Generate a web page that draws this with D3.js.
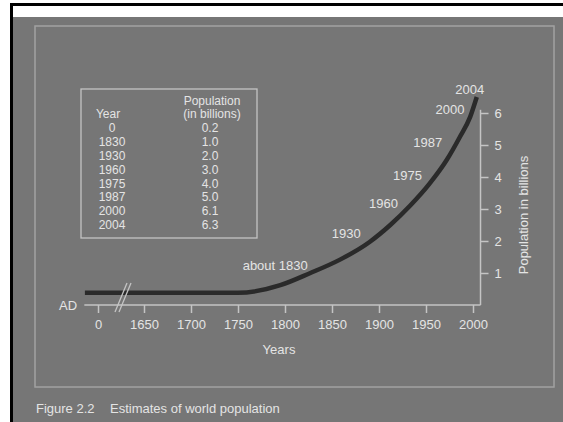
<!DOCTYPE html>
<html>
<head>
<meta charset="utf-8">
<script src="https://cdn.jsdelivr.net/npm/d3@7/dist/d3.min.js"></script>
<style>
  html, body { margin: 0; padding: 0; background: #ffffff; }
  svg { display: block; }
  text { font-family: "Liberation Sans", Arial, sans-serif; }
</style>
</head>
<body>
<svg id="chart" width="563" height="422"></svg>
<script>
// ---- data ----
const tableYears = ["0", "1830", "1930", "1960", "1975", "1987", "2000", "2004"];
const tablePop = ["0.2", "1.0", "2.0", "3.0", "4.0", "5.0", "6.1", "6.3"];
const xTickValues = [0, 1650, 1700, 1750, 1800, 1850, 1900, 1950, 2000];
const yTickValues = [1, 2, 3, 4, 5, 6];
// drawn curve
const curveYears = [-470, 1750, 1795, 1827, 1858, 1890, 1912, 1933, 1954, 1972, 1986, 1997, 2004];
const curveValues = [0.38, 0.38, 0.62, 1.0, 1.41, 1.97, 2.5, 3.1, 3.8, 4.53, 5.25, 5.88, 6.5];
// curve annotations
const labelTexts = ["about 1830", "1930", "1960", "1975", "1987", "2000", "2004"];
const labelYears = [1830, 1930, 1960, 1975, 1987, 2000, 2004];
const labelValues = [1.0, 2.0, 3.0, 4.0, 5.0, 6.1, 6.3];

// ---- layout ----
const labelOffsets = [[-38, -8], [-61, -8], [-52, -6], [-42, -2], [-33, -3], [-23, 0], [-7, -14]];
const bg = "#767676", txt = "#e4e4e4", frame = "#a2a2a2", axisCol = "#c4c4c4";
const fs = 13, tfs = 12;
const fontFam = "'Liberation Sans', Arial, sans-serif";

const svg = d3.select("#chart");

// page background / borders
svg.append("rect").attr("x", 10).attr("y", 3).attr("width", 553).attr("height", 419).attr("fill", "#000");
svg.append("rect").attr("x", 13).attr("y", 6).attr("width", 550).attr("height", 416).attr("fill", "#fff");
svg.append("rect").attr("x", 13).attr("y", 17).attr("width", 550).attr("height", 405).attr("fill", bg);
// inner frame
svg.append("rect").attr("x", 35).attr("y", 26).attr("width", 519).attr("height", 361)
  .attr("fill", "none").attr("stroke", frame).attr("stroke-width", 1.5);

// caption
svg.append("text").attr("x", 36).attr("y", 408).attr("dominant-baseline", "central")
  .attr("fill", txt).attr("font-size", fs).text("Figure 2.2");
svg.append("text").attr("x", 110).attr("y", 408).attr("dominant-baseline", "central")
  .attr("fill", txt).attr("font-size", fs).text("Estimates of world population");

// scales
const x = d3.scaleLinear().domain([0, 1650, 2000]).range([98, 144, 473]);
const y = d3.scaleLinear().domain([0, 6]).range([305, 113]);
const yAxisX = x(2008);

// x axis
const xAxis = d3.axisBottom(x).tickValues(xTickValues).tickFormat(d3.format("d"))
  .tickSize(8).tickPadding(7);
const gx = svg.append("g").attr("transform", `translate(0,${y(0)})`).call(xAxis);
gx.select(".domain").remove();
gx.selectAll(".tick line").attr("stroke", axisCol).attr("stroke-width", 1.5);
gx.selectAll(".tick text").attr("fill", txt).attr("font-size", fs).style("font-family", fontFam);
svg.append("line").attr("x1", x(-490)).attr("x2", yAxisX).attr("y1", y(0)).attr("y2", y(0))
  .attr("stroke", axisCol).attr("stroke-width", 1.5);

// y axis
const yAxis = d3.axisRight(y).tickValues(yTickValues).tickFormat(d3.format("d"))
  .tickSize(8).tickPadding(6);
const gy = svg.append("g").attr("transform", `translate(${yAxisX},0)`).call(yAxis);
gy.select(".domain").remove();
gy.selectAll(".tick line").attr("stroke", axisCol).attr("stroke-width", 1.5);
gy.selectAll(".tick text").attr("fill", txt).attr("font-size", fs).style("font-family", fontFam);
svg.append("line").attr("x1", yAxisX).attr("x2", yAxisX).attr("y1", y(0)).attr("y2", y(6.1))
  .attr("stroke", axisCol).attr("stroke-width", 1.5);

// axis titles
svg.append("text").attr("x", 279).attr("y", 349).attr("text-anchor", "middle")
  .attr("dominant-baseline", "central").attr("fill", txt).attr("font-size", fs).text("Years");
svg.append("text").attr("x", 68).attr("y", y(0)).attr("text-anchor", "middle")
  .attr("dominant-baseline", "central").attr("fill", txt).attr("font-size", fs).text("AD");
svg.append("text").attr("transform", "translate(523,215) rotate(-90)").attr("text-anchor", "middle")
  .attr("dominant-baseline", "central").attr("fill", txt).attr("font-size", fs).text("Population in billions");

// curve
const curveData = curveYears.map((yr, i) => ({ year: yr, val: curveValues[i] }));
const line = d3.line().x(d => x(d.year)).y(d => y(d.val)).curve(d3.curveMonotoneX);
svg.append("path").datum(curveData).attr("d", line).attr("fill", "none")
  .attr("stroke", "#2a2a2a").attr("stroke-width", 4.5);

// axis break marks
[0, 4].forEach(dx => {
  svg.append("line").attr("x1", 115 + dx).attr("y1", 312).attr("x2", 127 + dx).attr("y2", 283)
    .attr("stroke", axisCol).attr("stroke-width", 1.3);
});

// curve labels
svg.selectAll("text.curvelab").data(labelTexts).enter().append("text")
  .attr("class", "curvelab")
  .attr("x", (d, i) => x(labelYears[i]) + labelOffsets[i][0])
  .attr("y", (d, i) => y(labelValues[i]) + labelOffsets[i][1])
  .attr("text-anchor", "middle").attr("dominant-baseline", "central")
  .attr("fill", txt).attr("font-size", fs).text(d => d);

// table
svg.append("rect").attr("x", 81).attr("y", 89).attr("width", 176).attr("height", 149)
  .attr("fill", "none").attr("stroke", axisCol).attr("stroke-width", 1.3);
svg.append("text").attr("x", 212).attr("y", 100.6).attr("text-anchor", "middle")
  .attr("dominant-baseline", "central").attr("fill", txt).attr("font-size", tfs).text("Population");
svg.append("text").attr("x", 212).attr("y", 114.4).attr("text-anchor", "middle")
  .attr("dominant-baseline", "central").attr("fill", txt).attr("font-size", tfs).text("(in billions)");
svg.append("text").attr("x", 108).attr("y", 114.4).attr("text-anchor", "middle")
  .attr("dominant-baseline", "central").attr("fill", txt).attr("font-size", tfs).text("Year");
const rowY = d3.scaleLinear().domain([0, tableYears.length - 1]).range([128.2, 225]);
svg.selectAll("text.ty").data(tableYears).enter().append("text").attr("class", "ty")
  .attr("x", 112).attr("y", (d, i) => rowY(i)).attr("text-anchor", "middle")
  .attr("dominant-baseline", "central").attr("fill", txt).attr("font-size", tfs).text(d => d);
svg.selectAll("text.tp").data(tablePop).enter().append("text").attr("class", "tp")
  .attr("x", 210).attr("y", (d, i) => rowY(i)).attr("text-anchor", "middle")
  .attr("dominant-baseline", "central").attr("fill", txt).attr("font-size", tfs).text(d => d);
</script>
</body>
</html>
